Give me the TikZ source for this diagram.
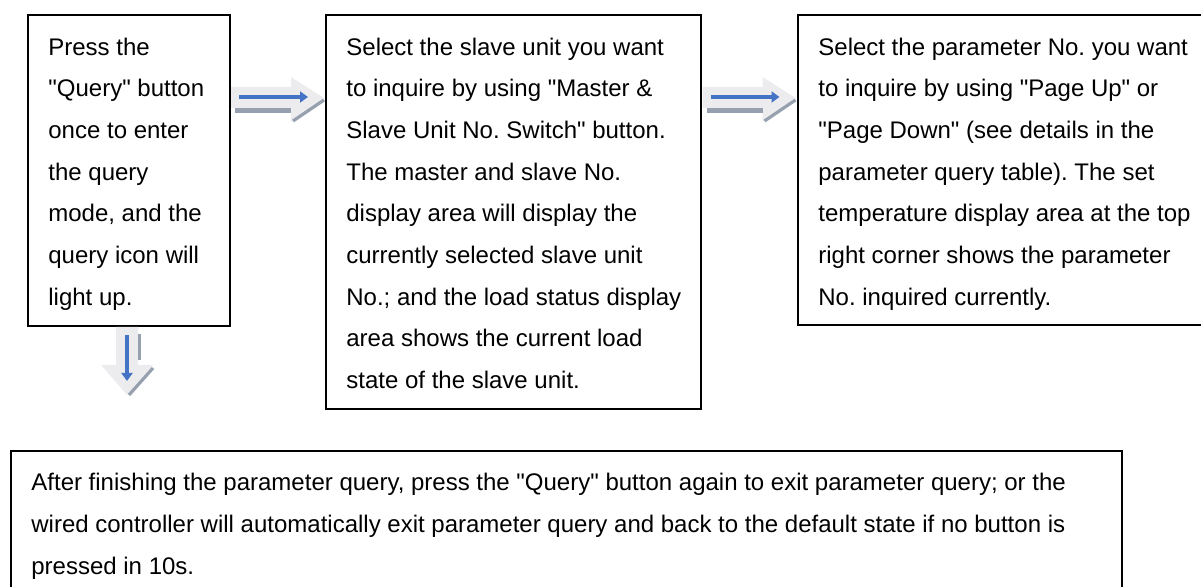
\documentclass[tikz,border=0pt]{standalone}
\usepackage{fontspec}
\newfontfamily\stepfont{Liberation Sans}
\usetikzlibrary{arrows.meta,calc,positioning}

\definecolor{arrowblue}{RGB}{68,114,196}
\definecolor{shadowgray}{RGB}{150,160,175}
\definecolor{paleface}{RGB}{236,236,238}

\begin{document}
\frenchspacing
\begin{tikzpicture}[
  x=0.5pt,y=-0.5pt,
  % one step of the procedure: a plain framed box, the text goes in separately
  stepbox/.style={draw,line width=1pt,anchor=north west,inner sep=0pt},
  steptext/.style={anchor=north west,inner sep=0pt,align=left,
                   font=\stepfont\fontsize{12}{20.85}\selectfont},
  % the three layers of a block arrow: pale body, blue stroke, grey shadow
  face/.style={fill=paleface,draw=none},
  stroke/.style={draw=arrowblue,line width=1.8pt,
                 -{Triangle[length=4pt,width=5.5pt]}},
  shade/.style={fill=shadowgray,draw=none},
  edge/.style={draw=shadowgray,line width=1.6pt},
]

%--- page --------------------------------------------------------------------
\useasboundingbox (0,0) rectangle (1201,587);
\clip (0,0) rectangle (1201,587);

%--- the four steps ----------------------------------------------------------
\node[stepbox,minimum width=101pt,minimum height=155.5pt] (qbox) at (27,14) {};
\node[stepbox,minimum width=187.5pt,minimum height=197pt] (sbox) at (325,14) {};
\node[stepbox,minimum width=209pt,minimum height=155pt] (pbox) at (797,14) {};
\node[stepbox,minimum width=555.5pt,minimum height=75pt] (ebox) at (10,450) {};

\node[steptext] (qtxt) at ($(qbox.north west)+(21,11.5)$) {\strut Press the\\
  "Query" button\\
  once to enter\\
  the query\\
  mode, and the\\
  query icon will\\
  light up.};

\node[steptext] (stxt) at ($(sbox.north west)+(21,11.5)$) {\strut Select the slave unit you want\\
  to inquire by using "Master \&\\
  Slave Unit No. Switch" button.\\
  The master and slave No.\\
  display area will display the\\
  currently selected slave unit\\
  No.; and the load status display\\
  area shows the current load\\
  state of the slave unit.};

\node[steptext] (ptxt) at ($(pbox.north west)+(21,11.5)$) {\strut Select the parameter No. you want\\
  to inquire by using "Page Up" or\\
  "Page Down" (see details in the\\
  parameter query table). The set\\
  temperature display area at the top\\
  right corner shows the parameter\\
  No. inquired currently.};

\node[steptext,font=\stepfont\fontsize{12}{21}\selectfont] (etxt)
  at ($(ebox.north west)+(21,11)$) {\strut After finishing the parameter query, press the "Query" button again to exit parameter query; or the\\
  wired controller will automatically exit parameter query and back to the default state if no button is\\
  pressed in 10s.};

%--- block arrows between the upper steps ------------------------------------
\foreach \a/\b in {qbox/sbox, sbox/pbox} {
  \begin{scope}[shift={($(\a.north east)!0.5!(\b.north west)+(0,85)$)}]
    \path[face] (-47,-12) -- (13,-12) -- (13,-22) -- (46,-1) -- (13,23)
                -- (13,9) -- (-47,9) -- cycle;
    \path[shade] (-43,9) rectangle (13,14);
    \draw[edge] (15,22) -- (46,1);
    \draw[stroke] (-39,-2) -- (30,-2);
  \end{scope}
}

%--- block arrow down to the last step ---------------------------------------
\begin{scope}[shift={($(qbox.south)+(-2,35)$)}]
  \path[face] (-11,-35) -- (11,-35) -- (11,3) -- (26,3) -- (0,33)
              -- (-26,3) -- (-11,3) -- cycle;
  \path[shade] (11,-28) rectangle (14,-2);
  \draw[edge] (2,33) -- (26,6);
  \draw[stroke,line width=2.3pt] (0,-27) -- (0,19);
\end{scope}

\end{tikzpicture}
\end{document}
